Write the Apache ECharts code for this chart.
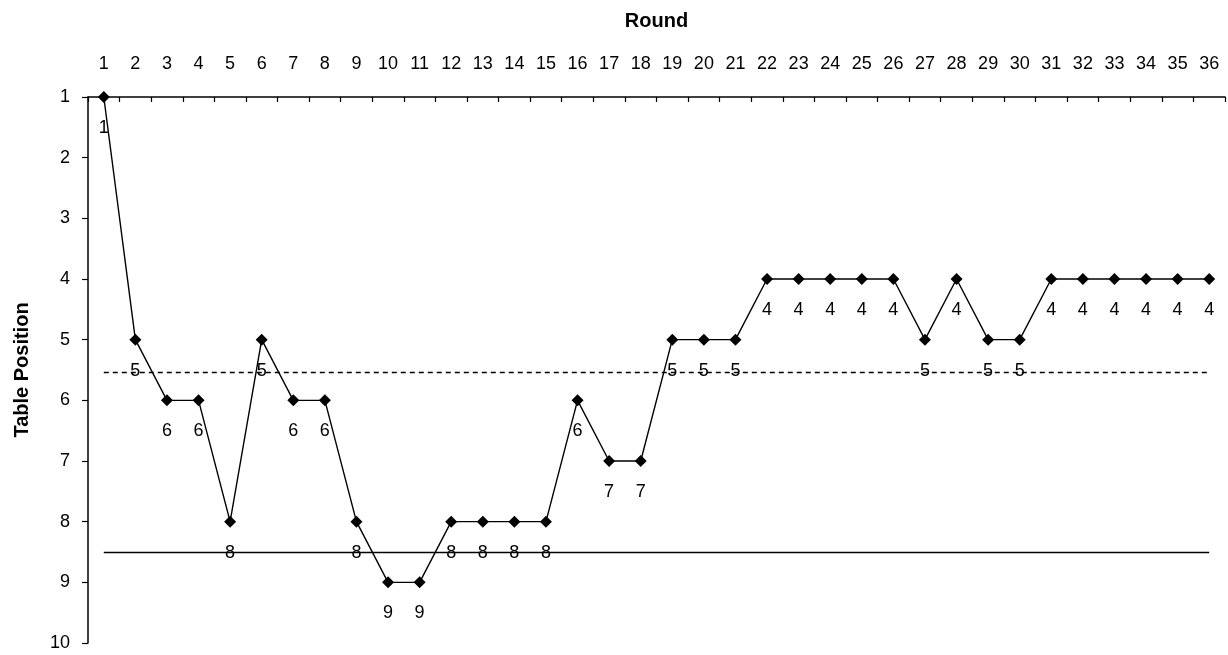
<!DOCTYPE html>
<html>
<head>
<meta charset="utf-8">
<script src="https://cdn.jsdelivr.net/npm/echarts@6/dist/echarts.min.js"></script>
<style>
html,body{margin:0;padding:0;background:#fff;}
#chart{width:1228px;height:655px;}
</style>
</head>
<body>
<div id="chart"></div>
<script>
// ---- data ----
const rounds = ['1','2','3','4','5','6','7','8','9','10','11','12','13','14','15','16','17','18',
  '19','20','21','22','23','24','25','26','27','28','29','30','31','32','33','34','35','36'];
const positions = [1,5,6,6,8,5,6,6,8,9,9,8,8,8,8,6,7,7,5,5,5,4,4,4,4,4,5,4,5,5,4,4,4,4,4,4];
const positionTicks = [1,2,3,4,5,6,7,8,9,10];
const averageLineValue = 5.53;
const relegationLineValue = 8.5;

const FONT = '"Liberation Sans", Arial, sans-serif';
const chart = echarts.init(document.getElementById('chart'), null, {renderer: 'canvas'});

chart.setOption({
  animation: false,
  backgroundColor: '#ffffff',
  grid: {left: 88, top: 97, right: 3, bottom: 12, containLabel: false},
  xAxis: {
    type: 'category',
    position: 'top',
    data: rounds,
    boundaryGap: true,
    name: 'Round',
    nameLocation: 'middle',
    nameGap: 66,
    nameTextStyle: {fontFamily: FONT, fontSize: 20, fontWeight: 'bold', color: '#000'},
    axisLine: {show: true, lineStyle: {color: '#000', width: 1.5}},
    axisTick: {show: true, inside: true, length: 5, lineStyle: {color: '#000', width: 1.2}},
    axisLabel: {interval: 0, margin: 24, fontFamily: FONT, fontSize: 18, color: '#000'},
    splitLine: {show: false}
  },
  yAxis: {
    type: 'value',
    inverse: true,
    min: positionTicks[0],
    max: positionTicks[positionTicks.length - 1],
    interval: 1,
    name: 'Table Position',
    nameLocation: 'middle',
    nameGap: 56,
    nameRotate: 90,
    nameTextStyle: {fontFamily: FONT, fontSize: 20, fontWeight: 'bold', color: '#000'},
    axisLine: {show: true, lineStyle: {color: '#000', width: 1.5}},
    axisTick: {show: true, inside: false, length: 6, lineStyle: {color: '#000', width: 1.2}},
    axisLabel: {margin: 18, fontFamily: FONT, fontSize: 18, color: '#000'},
    splitLine: {show: false}
  },
  series: [{
    type: 'line',
    data: positions,
    symbol: 'diamond',
    symbolSize: 12,
    showAllSymbol: true,
    itemStyle: {color: '#000'},
    lineStyle: {color: '#000', width: 1.4},
    label: {
      show: true,
      position: 'bottom',
      distance: 16,
      fontFamily: FONT,
      fontSize: 18,
      color: '#000'
    },
    markLine: {
      silent: true,
      symbol: ['none', 'none'],
      label: {show: false},
      data: [
        [{coord: [rounds[0], averageLineValue], lineStyle: {type: [5, 4], color: '#000', width: 1.3}},
         {coord: [rounds[rounds.length - 1], averageLineValue]}],
        [{coord: [rounds[0], relegationLineValue], lineStyle: {type: 'solid', color: '#000', width: 1.3}},
         {coord: [rounds[rounds.length - 1], relegationLineValue]}]
      ]
    },
    z: 3
  }]
});
</script>
</body>
</html>
